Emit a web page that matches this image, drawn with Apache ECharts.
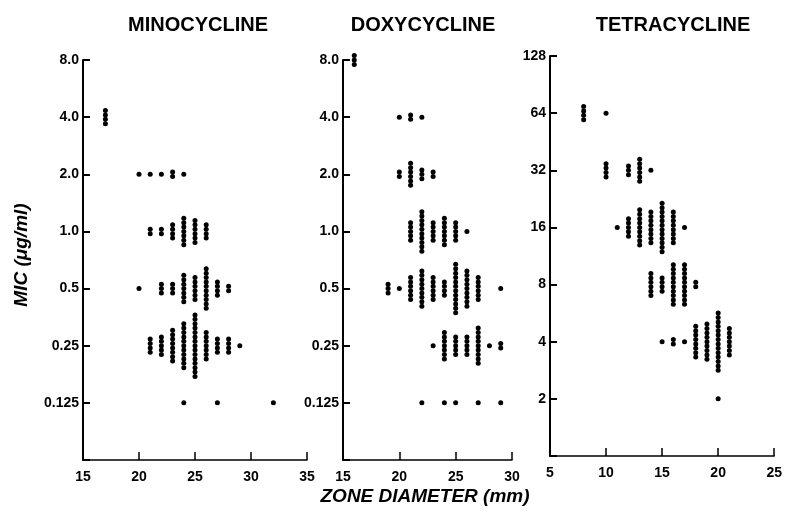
<!DOCTYPE html>
<html>
<head>
<meta charset="utf-8">
<script src="https://cdn.jsdelivr.net/npm/echarts@6/dist/echarts.min.js"></script>
<style>
  html, body { margin: 0; padding: 0; background: #fff; }
  #chart { width: 785px; height: 514px; }
</style>
</head>
<body>
<div id="chart"></div>
<script>
// MIC tick labels, bottom (empty) to top
const minoLevels = ['', '0.125', '0.25', '0.5', '1.0', '2.0', '4.0', '8.0'];
const doxyLevels = ['', '0.125', '0.25', '0.5', '1.0', '2.0', '4.0', '8.0'];
const tetraLevels = ['', '2', '4', '8', '16', '32', '64', '128'];

// [zone diameter mm, MIC label, number of strains]
const minoData = [
  [17, '4.0', 4],
  [20, '2.0', 1], [21, '2.0', 1], [22, '2.0', 1], [23, '2.0', 2], [24, '2.0', 1],
  [21, '1.0', 2], [22, '1.0', 2], [23, '1.0', 4], [24, '1.0', 7], [25, '1.0', 6], [26, '1.0', 4],
  [20, '0.5', 1], [22, '0.5', 3], [23, '0.5', 3], [24, '0.5', 7], [25, '0.5', 6], [26, '0.5', 10], [27, '0.5', 4], [28, '0.5', 2],
  [21, '0.25', 4], [22, '0.25', 5], [23, '0.25', 8], [24, '0.25', 11], [25, '0.25', 15], [26, '0.25', 7], [27, '0.25', 4], [28, '0.25', 4], [29, '0.25', 1],
  [24, '0.125', 1], [27, '0.125', 1], [32, '0.125', 1]
];
const doxyData = [
  [16, '8.0', 3],
  [20, '4.0', 1], [21, '4.0', 2], [22, '4.0', 1],
  [20, '2.0', 2], [21, '2.0', 6], [22, '2.0', 3], [23, '2.0', 2],
  [21, '1.0', 5], [22, '1.0', 10], [23, '1.0', 5], [24, '1.0', 7], [25, '1.0', 5], [26, '1.0', 1],
  [19, '0.5', 3], [20, '0.5', 1], [21, '0.5', 6], [22, '0.5', 9], [23, '0.5', 6], [24, '0.5', 4], [25, '0.5', 12], [26, '0.5', 9], [27, '0.5', 6], [29, '0.5', 1],
  [23, '0.25', 1], [24, '0.25', 7], [25, '0.25', 5], [26, '0.25', 5], [27, '0.25', 9], [28, '0.25', 1], [29, '0.25', 2],
  [22, '0.125', 1], [24, '0.125', 1], [25, '0.125', 1], [27, '0.125', 1], [29, '0.125', 1]
];
const tetraData = [
  [8, '64', 4], [10, '64', 1],
  [10, '32', 4], [12, '32', 3], [13, '32', 6], [14, '32', 1],
  [11, '16', 1], [12, '16', 5], [13, '16', 9], [14, '16', 8], [15, '16', 12], [16, '16', 8], [17, '16', 1],
  [14, '8', 6], [15, '8', 4], [16, '8', 10], [17, '8', 10], [18, '8', 2],
  [15, '4', 1], [16, '4', 2], [17, '4', 1], [18, '4', 8], [19, '4', 9], [20, '4', 14], [21, '4', 7],
  [20, '2', 1]
];

const DOT_R = 2.5;
const DOT_GAP = 4.4;
const FONT = '"Liberation Sans", Arial, sans-serif';

// one stack of dots per (zone, MIC) cell
function renderStack(params, api) {
  const c = api.coord([api.value(0), api.value(1)]);
  const n = api.value(2);
  const children = [];
  for (let k = 0; k < n; k++) {
    children.push({
      type: 'circle',
      shape: {cx: c[0], cy: c[1] + (k - (n - 1) / 2) * DOT_GAP, r: DOT_R},
      style: {fill: '#000'}
    });
  }
  return {type: 'group', children: children};
}

function toSeries(data, levels, idx) {
  return {
    type: 'custom',
    xAxisIndex: idx,
    yAxisIndex: idx,
    renderItem: renderStack,
    data: data.map(d => [d[0], levels.indexOf(d[1]), d[2]])
  };
}

function xAxisCfg(idx, min, max) {
  return {
    type: 'value', gridIndex: idx, min: min, max: max, interval: 5,
    axisLine: {show: true, lineStyle: {color: '#000', width: 1.5}},
    axisTick: {show: true, inside: true, length: 8, lineStyle: {color: '#000', width: 1.5}},
    axisLabel: {color: '#000', fontSize: 14, fontWeight: 'bold', fontFamily: FONT, margin: 10},
    splitLine: {show: false}
  };
}

function yAxisCfg(idx, levels) {
  return {
    type: 'value', gridIndex: idx, min: 0, max: 7, interval: 1,
    axisLine: {show: true, lineStyle: {color: '#000', width: 2}},
    axisTick: {show: true, inside: true, length: 7, lineStyle: {color: '#000', width: 2}},
    axisLabel: {color: '#000', fontSize: 14, fontWeight: 'bold', fontFamily: FONT, margin: 4,
      formatter: v => levels[v]},
    splitLine: {show: false}
  };
}

const titleStyle = {color: '#000', fontSize: 20, fontWeight: 'bold', fontFamily: FONT};

const chart = echarts.init(document.getElementById('chart'));
chart.setOption({
  backgroundColor: '#fff',
  animation: false,
  title: [
    {text: 'MINOCYCLINE', left: 193, top: 10, textAlign: 'center', textStyle: titleStyle},
    {text: 'DOXYCYCLINE', left: 418, top: 10, textAlign: 'center', textStyle: titleStyle},
    {text: 'TETRACYCLINE', left: 668, top: 10, textAlign: 'center', textStyle: titleStyle}
  ],
  grid: [
    {left: 83, top: 60, width: 224, height: 400},
    {left: 343, top: 60, width: 169, height: 400},
    {left: 550, top: 56, width: 226, height: 400}
  ],
  xAxis: [xAxisCfg(0, 15, 35), xAxisCfg(1, 15, 30), xAxisCfg(2, 5, 25)],
  yAxis: [yAxisCfg(0, minoLevels), yAxisCfg(1, doxyLevels), yAxisCfg(2, tetraLevels)],
  graphic: [
    {type: 'text', x: 22, y: 255, rotation: Math.PI / 2,
      style: {text: 'MIC (μg/ml)', fill: '#000', align: 'center', verticalAlign: 'middle',
        font: 'italic bold 19px ' + FONT}},
    {type: 'text', x: 425, y: 497,
      style: {text: 'ZONE DIAMETER (mm)', fill: '#000', align: 'center', verticalAlign: 'middle',
        font: 'italic bold 19px ' + FONT}}
  ],
  series: [
    toSeries(minoData, minoLevels, 0),
    toSeries(doxyData, doxyLevels, 1),
    toSeries(tetraData, tetraLevels, 2)
  ]
});
</script>
</body>
</html>
